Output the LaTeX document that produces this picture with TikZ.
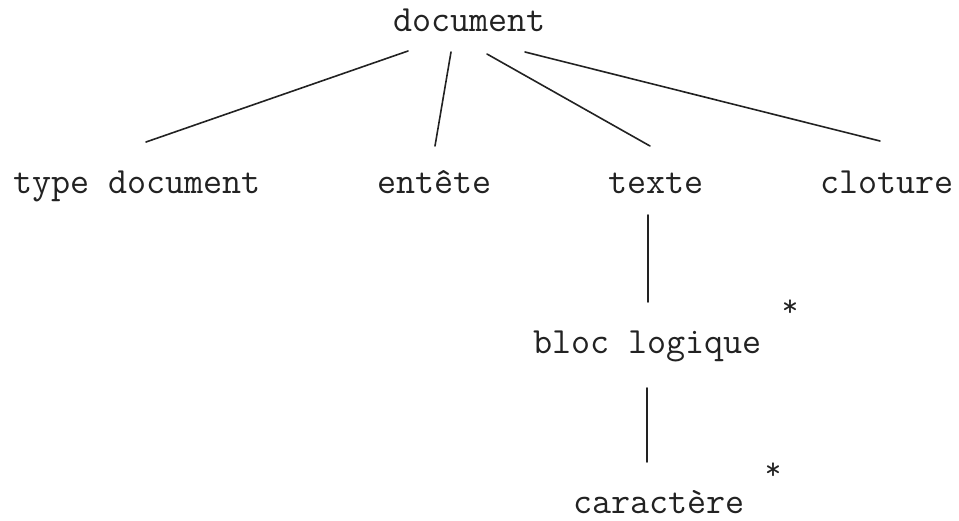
\documentclass[tikz,border=0pt]{standalone}
\usepackage{fontspec}
\usetikzlibrary{calc}
\definecolor{ink}{HTML}{222222}
\tikzset{
  lbl/.style={anchor=base west, inner sep=0pt, text=ink,
              font=\ttfamily\fontsize{37}{41}\selectfont},
  starmark/.style={anchor=base, inner sep=0pt, text=ink,
              font=\ttfamily\fontsize{32}{36}\selectfont},
  edge/.style={draw=ink, line width=1.6pt, line cap=round}
}
\begin{document}
\begin{tikzpicture}[x=1pt, y=-1pt]
  \useasboundingbox (0,0) rectangle (959,520);
  % labels, placed by their baselines
  \node[lbl] (doc)     at (393,31)  {document};
  \node[lbl] (type)    at (13,193)  {type document};
  \node[lbl] (entete)  at (377,193) {entête};
  \node[lbl] (texte)   at (608,193) {texte};
  \node[lbl] (cloture) at (820,193) {cloture};
  \node[lbl] (bloc)    at (533,353) {bloc logique};
  \node[lbl] (car)     at (573,513) {caractère};
  % repetition marks
  \node[starmark] (rep1) at (790,316) {*};
  \node[starmark] (rep2) at (773,479) {*};
  % branches
  \draw[edge] ($(doc.base west)+(15,20)$)  -- ($(type.base west)+(133,-51)$);
  \draw[edge] ($(doc.base west)+(58,21)$)  -- ($(entete.base west)+(58,-47)$);
  \draw[edge] ($(doc.base west)+(94,23)$)  -- ($(texte.base west)+(42,-47)$);
  \draw[edge] ($(doc.base west)+(132,21)$) -- ($(cloture.base west)+(60,-52)$);
  \draw[edge] ($(texte.base west)+(40,22)$) -- ($(bloc.base west)+(115,-51)$);
  \draw[edge] ($(bloc.base west)+(114,35)$) -- ($(car.base west)+(74,-51)$);
\end{tikzpicture}
\end{document}
